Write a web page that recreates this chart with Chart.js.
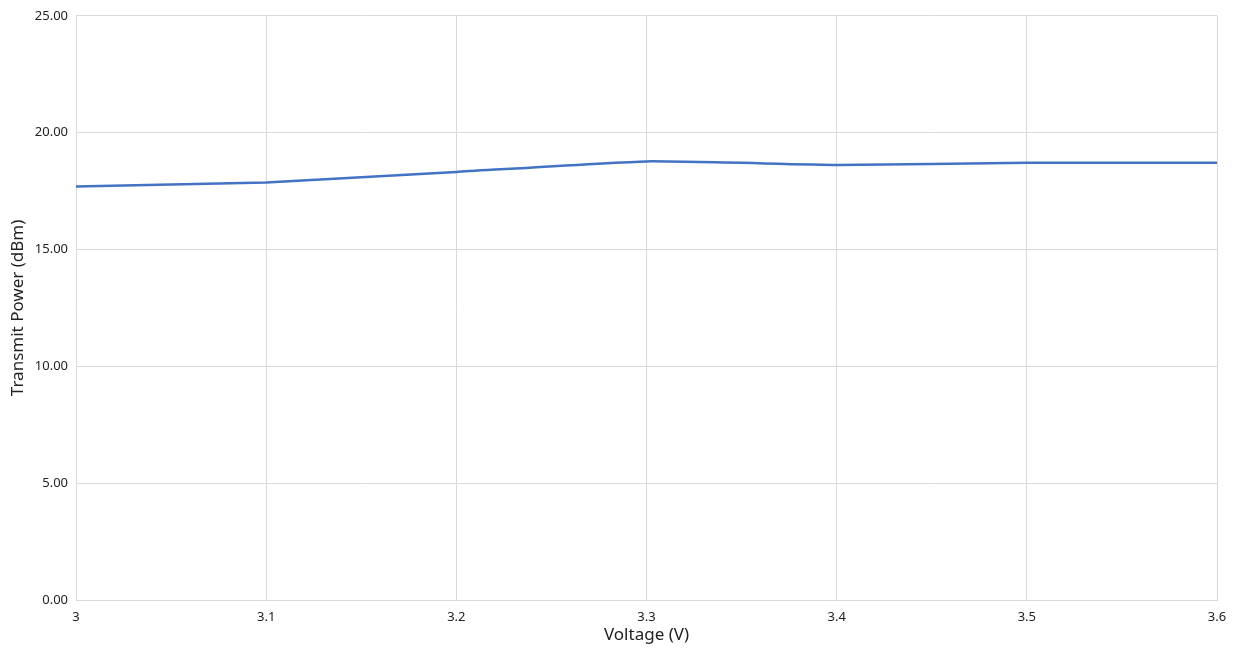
<!DOCTYPE html>
<html>
<head>
<meta charset="utf-8">
<script src="https://cdn.jsdelivr.net/npm/chart.js@4/dist/chart.umd.min.js"></script>
<style>
  html, body { margin: 0; padding: 0; background: #fff; }
  #wrap { width: 1241px; height: 650px; }
</style>
</head>
<body>
<div id="wrap"><canvas id="chart" width="1241" height="650"></canvas></div>
<script>
// transmit power vs supply voltage
const voltages = [3.0, 3.1, 3.2, 3.3, 3.4, 3.5, 3.6];
const powerDbm = [17.70, 17.87, 18.32, 18.77, 18.62, 18.71, 18.71];

const font = "'Noto Sans', 'DejaVu Sans', sans-serif";
const gridColor = "#d9d9d9";
const textColor = "#222";

new Chart(document.getElementById("chart"), {
  type: "line",
  data: {
    datasets: [{
      label: "Transmit Power",
      data: voltages.map((v, i) => ({ x: v, y: powerDbm[i] })),
      borderColor: "#4472c4",
      backgroundColor: "#4472c4",
      borderWidth: 2.5,
      pointRadius: 0,
      tension: 0.15
    }]
  },
  options: {
    responsive: false,
    animation: false,
    layout: { padding: { left: 0, right: 24, top: 14, bottom: 0 } },
    plugins: { legend: { display: false }, tooltip: { enabled: false } },
    scales: {
      x: {
        type: "linear",
        min: 3,
        max: 3.6,
        afterFit: s => { s.height = 50; },
        afterBuildTicks: s => {
          s.ticks = voltages.map(v => ({ value: v }));
        },
        grid: { color: gridColor, drawTicks: false },
        border: { color: gridColor },
        ticks: {
          padding: 9,
          color: textColor,
          font: { family: font, size: 13 },
          callback: v => String(Number(v.toFixed(1)))
        },
        title: {
          display: true,
          text: "Voltage (V)",
          color: textColor,
          font: { family: font, size: 17 },
          padding: { top: 0, bottom: 5 }
        }
      },
      y: {
        min: 0,
        max: 25,
        afterFit: s => { s.width = 76; },
        grid: { color: gridColor, drawTicks: false },
        border: { display: false },
        ticks: {
          stepSize: 5,
          padding: 8,
          color: textColor,
          font: { family: font, size: 13 },
          callback: v => v.toFixed(2)
        },
        title: {
          display: true,
          text: "Transmit Power (dBm)",
          color: textColor,
          font: { family: font, size: 17 },
          padding: { top: 8, bottom: 0 }
        }
      }
    }
  }
});
</script>
</body>
</html>
